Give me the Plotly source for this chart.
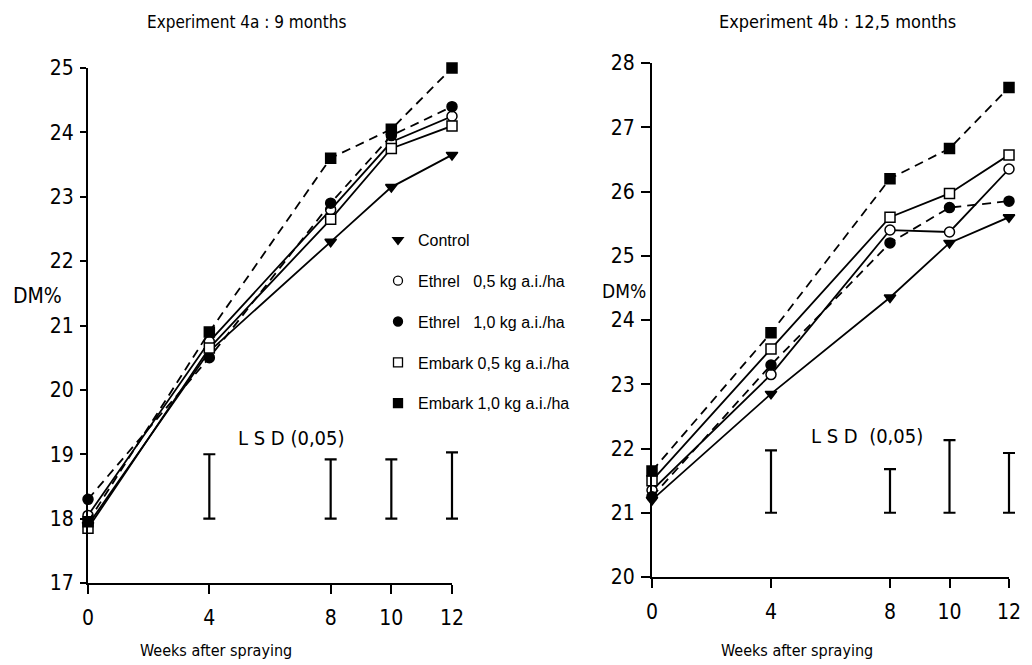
import plotly.graph_objects as go

# ---------------- data ----------------
weeks = [0, 4, 8, 10, 12]

# Experiment 4a : 9 months
a_control = [17.9, 20.6, 22.3, 23.15, 23.65]
a_ethrel05 = [18.05, 20.75, 22.8, 23.85, 24.25]
a_ethrel10 = [18.3, 20.5, 22.9, 23.95, 24.4]
a_embark05 = [17.85, 20.65, 22.65, 23.75, 24.1]
a_embark10 = [17.95, 20.9, 23.6, 24.05, 25.0]

# Experiment 4b : 12,5 months
b_control = [21.2, 22.85, 24.35, 25.2, 25.6]
b_ethrel05 = [21.35, 23.15, 25.4, 25.37, 26.35]
b_ethrel10 = [21.25, 23.3, 25.2, 25.75, 25.85]
b_embark05 = [21.5, 23.55, 25.6, 25.97, 26.57]
b_embark10 = [21.65, 23.8, 26.2, 26.67, 27.62]

# LSD (0,05) bars
lsd_weeks = [4, 8, 10, 12]
a_lsd_base = 18
a_lsd = [1.0, 0.92, 0.92, 1.03]
b_lsd_base = 21
b_lsd = [0.97, 0.68, 1.13, 0.93]

x_ticks = [0, 4, 8, 10, 12]
a_yticks = [17, 18, 19, 20, 21, 22, 23, 24, 25]
b_yticks = [20, 21, 22, 23, 24, 25, 26, 27, 28]

series_names = [
    "Control",
    "Ethrel\u00a0\u00a0\u00a00,5 kg a.i./ha",
    "Ethrel\u00a0\u00a0\u00a01,0 kg a.i./ha",
    "Embark\u00a00,5 kg a.i./ha",
    "Embark\u00a01,0 kg a.i./ha",
]

# ---------------- styles ----------------
NARROW = "Liberation Sans Narrow, DejaVu Sans Condensed, Liberation Sans, Arial, sans-serif"
FONT = "Liberation Sans, Arial, sans-serif"
W, H = 1032, 665
styles = [
    dict(symbol="triangle-down", color="black", dash="solid"),
    dict(symbol="circle", color="white", dash="solid"),
    dict(symbol="circle", color="black", dash="9px,6px"),
    dict(symbol="square", color="white", dash="solid"),
    dict(symbol="square", color="black", dash="9px,6px"),
]

# panel geometry (pixels)
A_X0, A_X1, A_YT, A_YB = 88, 452, 68, 583
B_X0, B_X1, B_YT, B_YB = 652, 1009, 63, 577
EXTRA = 20  # extra room (px) for the LSD-bar overlay so the caps at week 12 are not clipped

fig = go.Figure()

def add_panel(series, xa, ya):
    for vals, st in zip(series, styles):
        fig.add_trace(go.Scatter(
            x=weeks, y=vals, xaxis=xa, yaxis=ya, mode="lines+markers",
            line=dict(color="black", width=1.8, dash=st["dash"]),
            marker=dict(symbol=st["symbol"], size=10, color=st["color"],
                        line=dict(color="black", width=1.5)),
            cliponaxis=False, showlegend=False, hoverinfo="skip"))

add_panel([a_control, a_ethrel05, a_ethrel10, a_embark05, a_embark10], "x", "y")
add_panel([b_control, b_ethrel05, b_ethrel10, b_embark05, b_embark10], "x2", "y2")

# LSD bars (drawn on invisible overlay axes with the same scale, slightly wider domain)
for base, lsd, xa, ya in [(a_lsd_base, a_lsd, "x3", "y3"), (b_lsd_base, b_lsd, "x4", "y4")]:
    fig.add_trace(go.Scatter(
        x=lsd_weeks, y=[base + v / 2 for v in lsd], xaxis=xa, yaxis=ya,
        mode="markers", marker=dict(size=1, color="rgba(0,0,0,0)"),
        error_y=dict(type="data", array=[v / 2 for v in lsd], symmetric=True,
                     color="black", thickness=2.2, width=6),
        showlegend=False, hoverinfo="skip", cliponaxis=False))

# legend-only traces (markers only)
for i, (name, st) in enumerate(zip(series_names, styles)):
    fig.add_trace(go.Scatter(
        x=[None], y=[None], mode="markers", name=name, legendgroup=f"g{i}",
        marker=dict(symbol=st["symbol"], size=9, color=st["color"],
                    line=dict(color="black", width=1.3)),
        showlegend=True))

axis_common = dict(showline=True, linecolor="black", linewidth=2, ticks="outside",
                   tickcolor="black", tickwidth=2, showgrid=False, zeroline=False,
                   automargin=False,
                   tickfont=dict(family=NARROW, size=21, color="black"))

fig.update_layout(
    width=W, height=H, plot_bgcolor="rgba(0,0,0,0)", paper_bgcolor="white",
    margin=dict(l=0, r=0, t=0, b=0, pad=0, autoexpand=False),
    font=dict(family=FONT, color="black"),
    xaxis=dict(domain=[A_X0 / W, A_X1 / W], range=[0, 12], tickvals=x_ticks,
               ticklen=9, ticklabelstandoff=6, anchor="y", **axis_common),
    yaxis=dict(domain=[1 - A_YB / H, 1 - A_YT / H], range=[17, 25], tickvals=a_yticks,
               ticklen=6, ticklabelstandoff=2, anchor="x", **axis_common),
    xaxis2=dict(domain=[B_X0 / W, B_X1 / W], range=[0, 12], tickvals=x_ticks,
                ticklen=9, ticklabelstandoff=6, anchor="y2", **axis_common),
    yaxis2=dict(domain=[1 - B_YB / H, 1 - B_YT / H], range=[20, 28], tickvals=b_yticks,
                ticklen=9, ticklabelstandoff=2, anchor="x2", **axis_common),
    xaxis3=dict(domain=[A_X0 / W, (A_X1 + EXTRA) / W],
                range=[0, 12 * (A_X1 + EXTRA - A_X0) / (A_X1 - A_X0)],
                visible=False, anchor="y3", automargin=False),
    yaxis3=dict(domain=[1 - A_YB / H, 1 - A_YT / H], range=[17, 25],
                visible=False, anchor="x3", automargin=False),
    xaxis4=dict(domain=[B_X0 / W, min(1.0, (B_X1 + EXTRA) / W)],
                range=[0, 12 * (min(W, B_X1 + EXTRA) - B_X0) / (B_X1 - B_X0)],
                visible=False, anchor="y4", automargin=False),
    yaxis4=dict(domain=[1 - B_YB / H, 1 - B_YT / H], range=[20, 28],
                visible=False, anchor="x4", automargin=False),
    legend=dict(x=378 / W, y=1 - 223 / H, xanchor="left", yanchor="top",
                bgcolor="rgba(0,0,0,0)", tracegroupgap=17,
                font=dict(family=FONT, size=16, color="black")),
    showlegend=True,
)

def ann(text, x, y, size, xref="paper", yref="paper", family=NARROW):
    if xref == "paper":
        x = x / W
    if yref == "paper":
        y = 1 - y / H
    return dict(text=text, x=x, y=y, xref=xref, yref=yref, xanchor="center",
                yanchor="middle", showarrow=False,
                font=dict(size=size, family=family, color="black"))

annotations = [
    ann("Experiment 4a : 9 months", 246, 22, 17),
    ann("Experiment 4b : 12,5 months", 837, 22, 18),
    ann("Weeks after spraying", 216, 650, 16),
    ann("Weeks after spraying", 797, 650, 16),
    ann("DM%", 37, 296, 21),
    ann("DM%", 624, 291, 19),
    ann("L S D (0,05)", 6.7, 19.25, 20, "x", "y"),
    ann("L S D\u00a0\u00a0(0,05)", 7.23, 22.2, 20, "x2", "y2"),
]
fig.update_layout(annotations=annotations)

fig.write_html("out.html", config={"displayModeBar": False},
               post_script="document.body.style.margin='0';")
